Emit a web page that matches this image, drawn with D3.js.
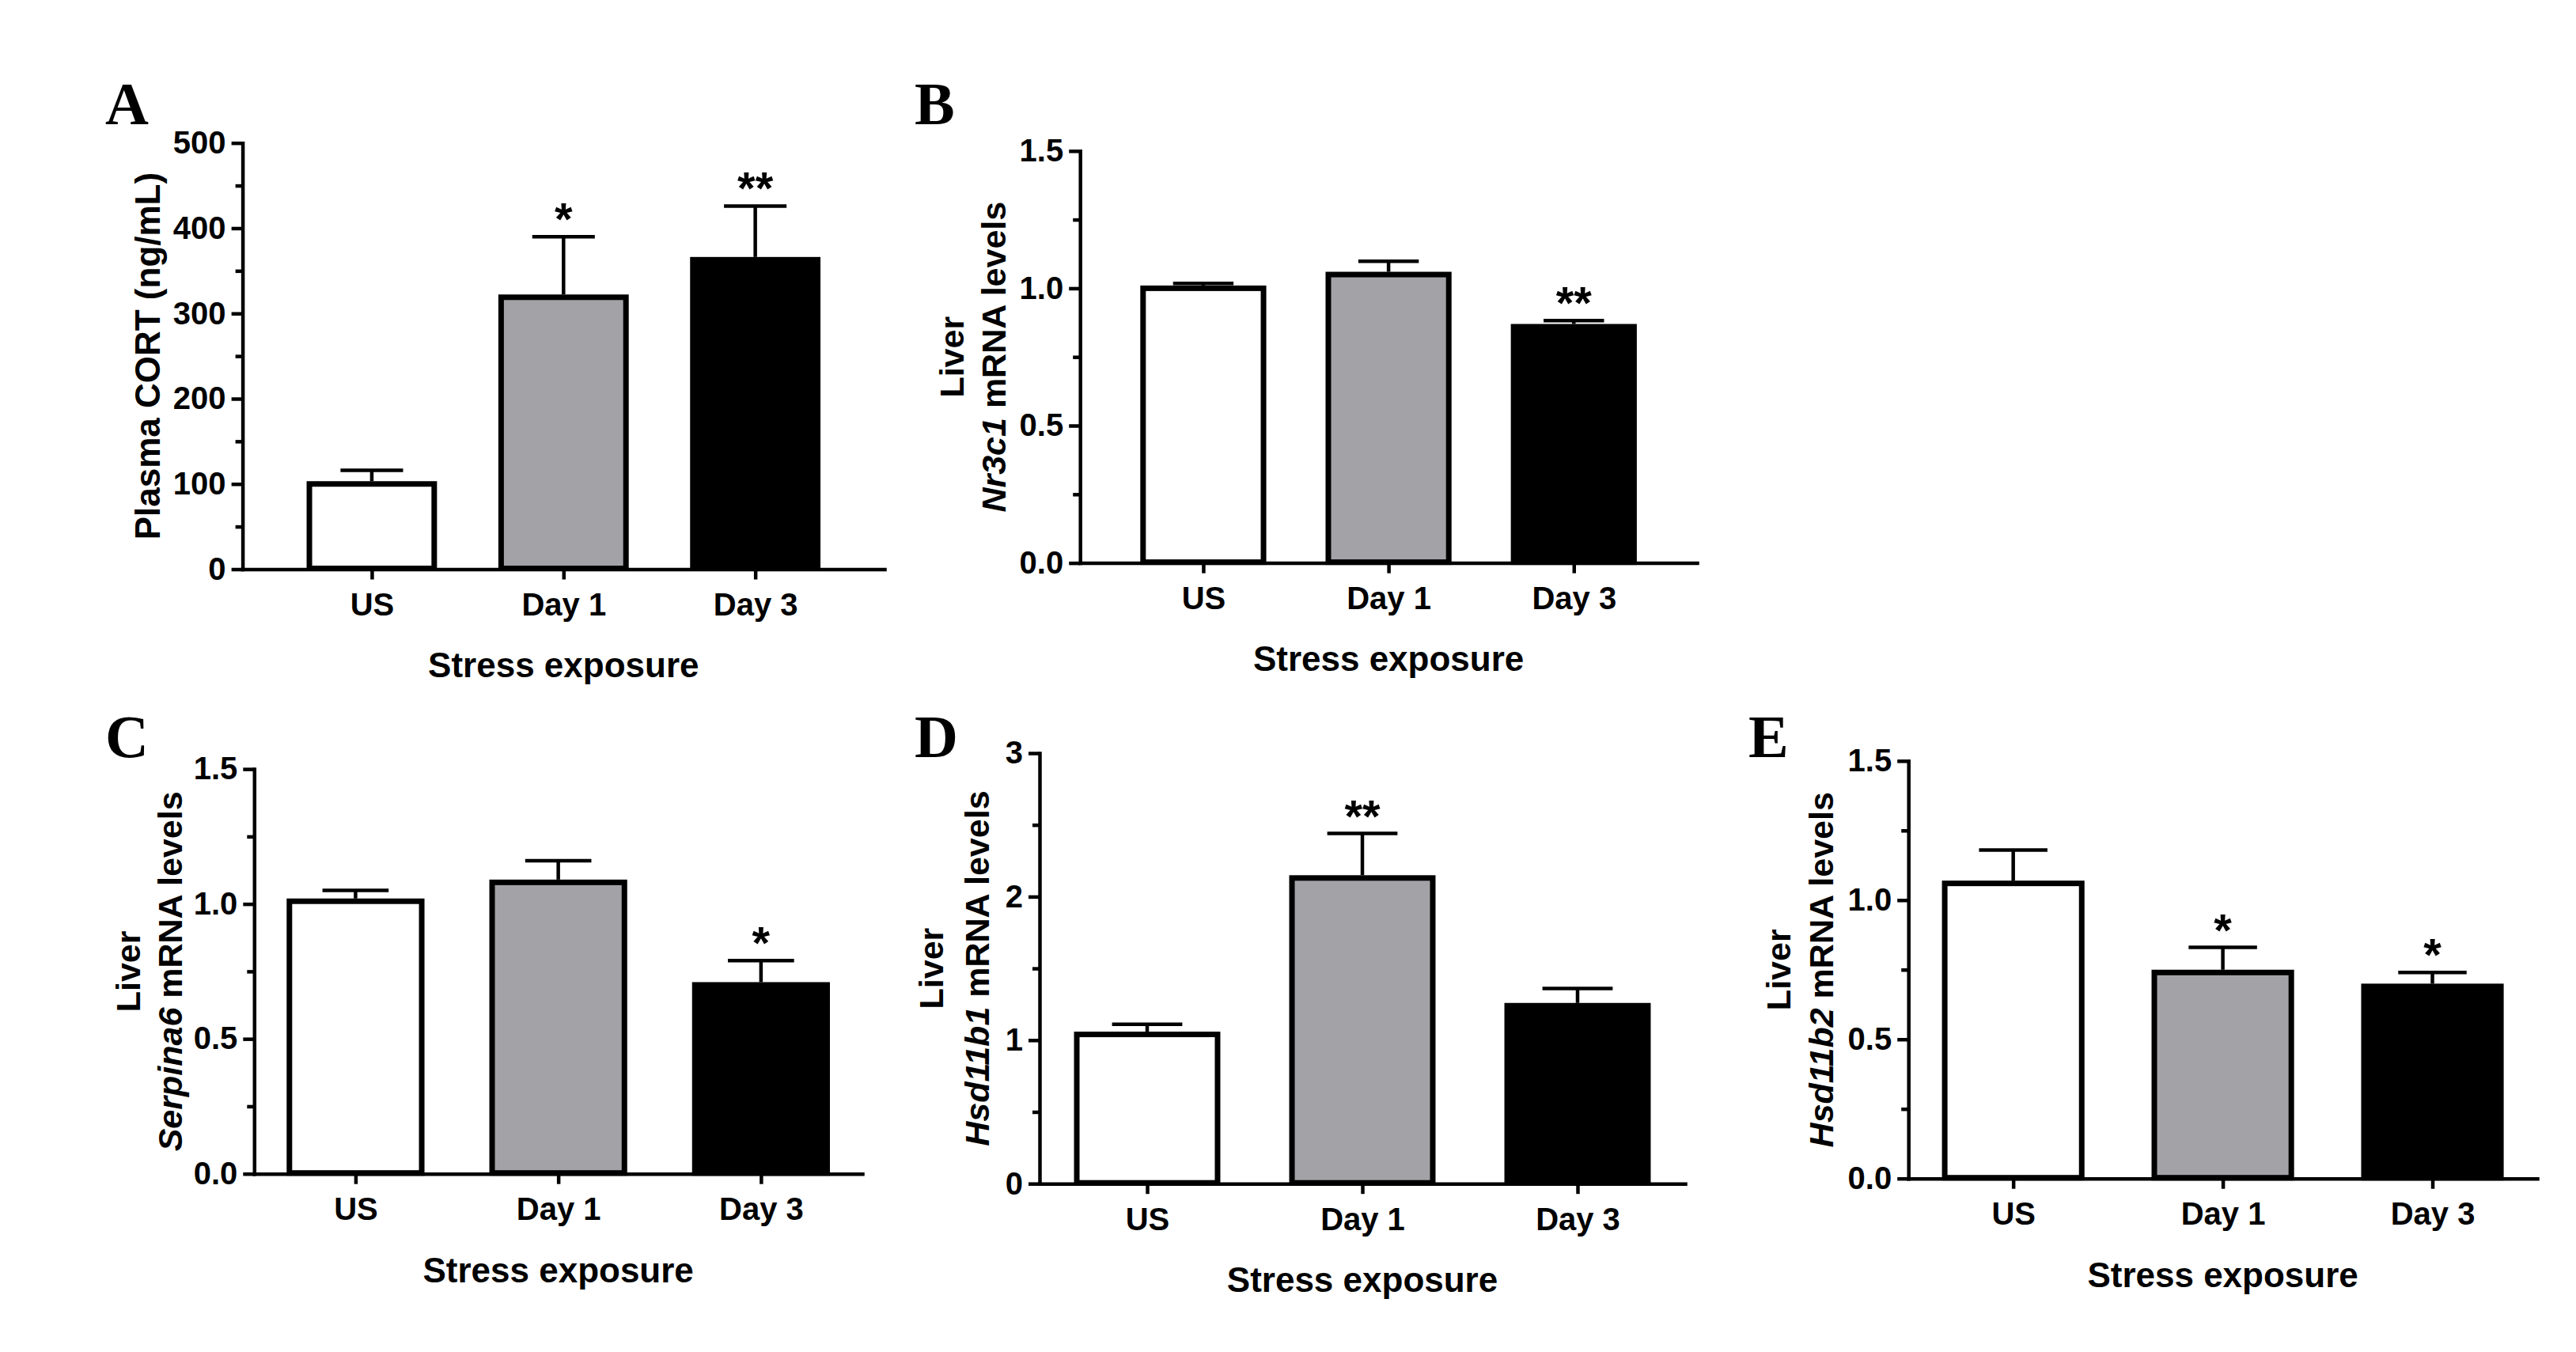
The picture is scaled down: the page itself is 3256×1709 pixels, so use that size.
<!DOCTYPE html>
<html>
<head>
<meta charset="utf-8">
<script src="https://cdn.jsdelivr.net/npm/d3@7"></script>
<style>
  body { margin: 0; background: #fff; }
  svg { display: block; }
</style>
</head>
<body>
<div id="chart"></div>
<script>
// groups on the x axis
var categories = ["US", "Day 1", "Day 3"];

// A: plasma corticosterone (ng/mL), mean and SEM
var cortMean = [100, 319, 363];
var cortSem = [16, 71, 63];
var cortStars = ["", "*", "**"];

// B: Nr3c1
var nr3c1Mean = [1.00, 1.05, 0.86];
var nr3c1Sem = [0.018, 0.048, 0.022];
var nr3c1Stars = ["", "", "**"];

// C: Serpina6
var serpinaMean = [1.01, 1.08, 0.70];
var serpinaSem = [0.04, 0.08, 0.09];
var serpinaStars = ["", "", "*"];

// D: Hsd11b1
var hsd1Mean = [1.04, 2.13, 1.24];
var hsd1Sem = [0.07, 0.31, 0.12];
var hsd1Stars = ["", "**", ""];

// E: Hsd11b2
var hsd2Mean = [1.06, 0.74, 0.69];
var hsd2Sem = [0.12, 0.09, 0.05];
var hsd2Stars = ["", "*", "*"];

// tick values
var cortTicks = [0, 100, 200, 300, 400, 500];
var cortMinor = [50, 150, 250, 350, 450];
var ratioTicks = [0, 0.5, 1.0, 1.5];
var ratioMinor = [0.25, 0.75, 1.25];
var hsd1Ticks = [0, 1, 2, 3];
var hsd1Minor = [0.5, 1.5, 2.5];

var barFills = ["#ffffff", "#a3a2a7", "#000000"];
var sansFont = "'Liberation Sans', Arial, Helvetica, sans-serif";
var serifFont = "'Liberation Serif', 'Times New Roman', serif";

var panels = [
  { letter: "A", mean: cortMean, sem: cortSem, stars: cortStars,
    ticks: cortTicks, minor: cortMinor, yMax: 500, fmt: d3.format("d"),
    label1: null, gene: null, single: "Plasma CORT (ng/mL)",
    x0: 306.6, x1: 1118, yTop: 180.7, yBot: 719.5, pad: 0.674,
    lx: 133, ly: 157, off1: 0, off2: -120 },
  { letter: "B", mean: nr3c1Mean, sem: nr3c1Sem, stars: nr3c1Stars,
    ticks: ratioTicks, minor: ratioMinor, yMax: 1.5, fmt: d3.format(".1f"),
    label1: "Liver", gene: "Nr3c1",
    x0: 1365.2, x1: 2145, yTop: 190.8, yBot: 711.6, pad: 0.665,
    lx: 1156, ly: 157, off1: -163, off2: -110 },
  { letter: "C", mean: serpinaMean, sem: serpinaSem, stars: serpinaStars,
    ticks: ratioTicks, minor: ratioMinor, yMax: 1.5, fmt: d3.format(".1f"),
    label1: "Liver", gene: "Serpina6",
    x0: 321.3, x1: 1090, yTop: 972.1, yBot: 1483.7, pad: 0.5,
    lx: 133, ly: 957, off1: -160, off2: -107 },
  { letter: "D", mean: hsd1Mean, sem: hsd1Sem, stars: hsd1Stars,
    ticks: hsd1Ticks, minor: hsd1Minor, yMax: 3, fmt: d3.format("d"),
    label1: "Liver", gene: "Hsd11b1",
    x0: 1314, x1: 2130, yTop: 952, yBot: 1496.2, pad: 0.5,
    lx: 1156, ly: 957, off1: -137, off2: -79 },
  { letter: "E", mean: hsd2Mean, sem: hsd2Sem, stars: hsd2Stars,
    ticks: ratioTicks, minor: ratioMinor, yMax: 1.5, fmt: d3.format(".1f"),
    label1: "Liver", gene: "Hsd11b2",
    x0: 2412.2, x1: 3207, yTop: 961.8, yBot: 1489.7, pad: 0.5,
    lx: 2210, ly: 957, off1: -165, off2: -111 }
];

var svg = d3.select("#chart")
  .append("svg")
  .attr("width", 3256)
  .attr("height", 1709)
  .style("background", "#fff");

var barStroke = 7;
var lineW = 4.5;

function styleAxis(sel, size) {
  sel.attr("font-family", sansFont)
    .attr("font-size", size)
    .attr("font-weight", "bold");
  sel.selectAll("text").attr("fill", "#000");
  sel.selectAll("line").attr("stroke", "#000").attr("stroke-width", lineW);
  sel.selectAll(".domain")
    .attr("stroke", "#000")
    .attr("stroke-width", lineW)
    .attr("stroke-linecap", "square");
}

function drawPanel(p) {
  var g = svg.append("g");

  var x = d3.scalePoint()
    .domain(categories)
    .range([p.x0, p.x1])
    .padding(p.pad);
  var y = d3.scaleLinear()
    .domain([0, p.yMax])
    .range([p.yBot, p.yTop]);

  var outerW = x.step() * 0.68;
  var bw = outerW - barStroke;
  var capW = outerW * 0.48;

  // Bars
  g.selectAll("rect.bar")
    .data(p.mean)
    .enter()
    .append("rect")
    .attr("class", "bar")
    .attr("x", function(d, i) { return x(categories[i]) - bw / 2; })
    .attr("y", function(d) { return y(d); })
    .attr("width", bw)
    .attr("height", function(d) { return y(0) - y(d) - 1; })
    .attr("fill", function(d, i) { return barFills[i]; })
    .attr("stroke", "#000")
    .attr("stroke-width", barStroke);

  // Error bars (upper SEM only)
  var err = g.selectAll("g.err")
    .data(p.mean)
    .enter()
    .append("g")
    .attr("class", "err");
  err.append("line")
    .attr("x1", function(d, i) { return x(categories[i]); })
    .attr("x2", function(d, i) { return x(categories[i]); })
    .attr("y1", function(d) { return y(d) - barStroke / 2; })
    .attr("y2", function(d, i) { return y(d + p.sem[i]); })
    .attr("stroke", "#000")
    .attr("stroke-width", lineW);
  err.append("line")
    .attr("x1", function(d, i) { return x(categories[i]) - capW / 2; })
    .attr("x2", function(d, i) { return x(categories[i]) + capW / 2; })
    .attr("y1", function(d, i) { return y(d + p.sem[i]); })
    .attr("y2", function(d, i) { return y(d + p.sem[i]); })
    .attr("stroke", "#000")
    .attr("stroke-width", lineW);

  // Significance stars
  g.selectAll("text.star")
    .data(p.mean)
    .enter()
    .append("text")
    .attr("class", "star")
    .attr("x", function(d, i) { return x(categories[i]); })
    .attr("y", function(d, i) { return y(d + p.sem[i]) - 2; })
    .attr("text-anchor", "middle")
    .attr("font-family", sansFont)
    .attr("font-weight", "bold")
    .attr("font-size", 58)
    .text(function(d, i) { return p.stars[i]; });

  // Axes
  var yAxis = g.append("g")
    .attr("transform", "translate(" + p.x0 + ",0)")
    .call(d3.axisLeft(y)
      .tickValues(p.ticks)
      .tickFormat(p.fmt)
      .tickSize(14)
      .tickPadding(7)
      .tickSizeOuter(0));
  styleAxis(yAxis, 40);

  var yMinor = g.append("g")
    .attr("transform", "translate(" + p.x0 + ",0)")
    .call(d3.axisLeft(y)
      .tickValues(p.minor)
      .tickFormat("")
      .tickSize(9)
      .tickSizeOuter(0));
  yMinor.select(".domain").remove();
  styleAxis(yMinor, 40);

  var xAxis = g.append("g")
    .attr("transform", "translate(0," + p.yBot + ")")
    .call(d3.axisBottom(x)
      .tickSize(13)
      .tickPadding(17)
      .tickSizeOuter(0));
  styleAxis(xAxis, 40);

  // X title
  g.append("text")
    .attr("x", (p.x0 + p.x1) / 2)
    .attr("y", p.yBot + 121)
    .attr("dy", "0.36em")
    .attr("text-anchor", "middle")
    .attr("font-family", sansFont)
    .attr("font-weight", "bold")
    .attr("font-size", 44)
    .text("Stress exposure");

  // Y title
  var cy = (p.yTop + p.yBot) / 2;
  if (p.single) {
    g.append("text")
      .attr("transform", "translate(" + (p.x0 + p.off2) + "," + cy + ") rotate(-90)")
      .attr("dy", "0.36em")
      .attr("text-anchor", "middle")
      .attr("font-family", sansFont)
      .attr("font-weight", "bold")
      .attr("font-size", 44)
      .text(p.single);
  } else {
    g.append("text")
      .attr("transform", "translate(" + (p.x0 + p.off1) + "," + cy + ") rotate(-90)")
      .attr("dy", "0.36em")
      .attr("text-anchor", "middle")
      .attr("font-family", sansFont)
      .attr("font-weight", "bold")
      .attr("font-size", 43)
      .text(p.label1);
    var t2 = g.append("text")
      .attr("transform", "translate(" + (p.x0 + p.off2) + "," + cy + ") rotate(-90)")
      .attr("dy", "0.36em")
      .attr("text-anchor", "middle")
      .attr("font-family", sansFont)
      .attr("font-weight", "bold")
      .attr("font-size", 43);
    t2.append("tspan").attr("font-style", "italic").text(p.gene);
    t2.append("tspan").text(" mRNA levels");
  }

  // Panel letter
  g.append("text")
    .attr("x", p.lx)
    .attr("y", p.ly)
    .attr("font-family", serifFont)
    .attr("font-weight", "bold")
    .attr("font-size", 76)
    .text(p.letter);
}

panels.forEach(drawPanel);
</script>
</body>
</html>
